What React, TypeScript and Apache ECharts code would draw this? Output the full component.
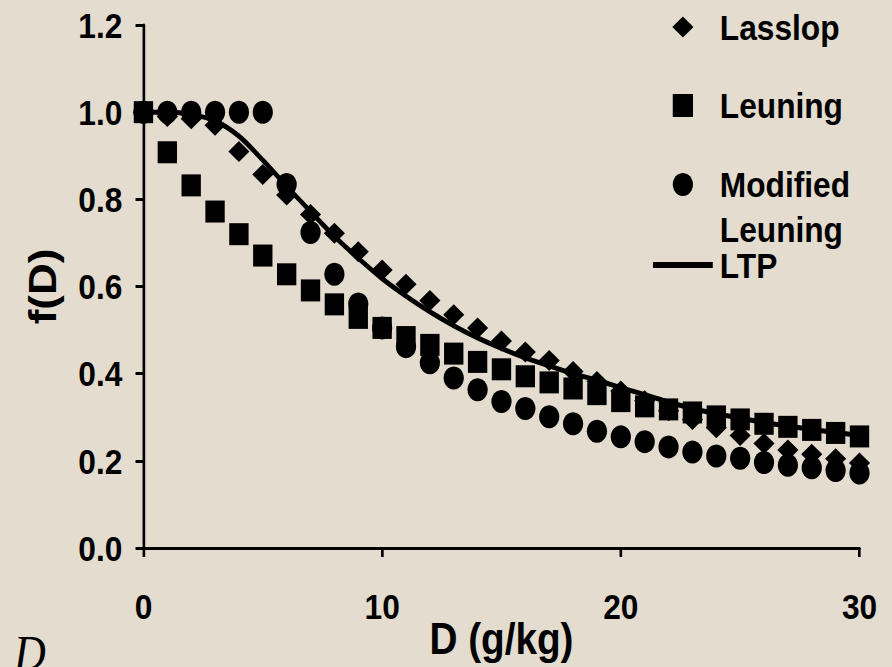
import React, { useEffect, useRef } from "react";
import * as echarts from "echarts";

// ---- data ----
const dValues = [0,1,2,3,4,5,6,7,8,9,10,11,12,13,14,15,16,17,18,19,20,21,22,23,24,25,26,27,28,29,30];
const lasslop = [1.0,0.99,0.985,0.97,0.91,0.857,0.81,0.765,0.722,0.68,0.638,0.605,0.568,0.535,0.505,0.475,0.45,0.43,0.405,0.382,0.36,0.338,0.315,0.295,0.276,0.258,0.24,0.225,0.215,0.205,0.195];
const leuning = [1.0,0.908,0.832,0.772,0.72,0.671,0.628,0.591,0.559,0.528,0.505,0.484,0.466,0.446,0.427,0.41,0.394,0.38,0.366,0.353,0.337,0.325,0.318,0.311,0.302,0.295,0.285,0.278,0.271,0.264,0.256];
const modifiedLeuning = [1.0,1.0,1.0,1.0,1.0,1.0,0.834,0.724,0.628,0.56,0.505,0.462,0.425,0.39,0.363,0.336,0.32,0.301,0.285,0.268,0.255,0.244,0.232,0.22,0.211,0.206,0.196,0.19,0.184,0.178,0.172];
const ltp = [1.0,1.0,0.995,0.98,0.945,0.89,0.83,0.772,0.715,0.665,0.618,0.578,0.542,0.51,0.482,0.458,0.436,0.418,0.4,0.385,0.368,0.352,0.335,0.32,0.308,0.298,0.288,0.28,0.272,0.265,0.258];
const seriesNames = ["Lasslop", "Leuning", "Modified Leuning", "LTP"];
const xTitle = "D (g/kg)";
const yTitle = "f(D)";

const S = 0.88; // the reference is horizontally condensed
const W = Math.round(892 / S);
const H = 667;
const FONT = '"Liberation Sans", Arial, sans-serif';
const BG = "#e3dccf";

const pairs = (ys: number[]) => dValues.map((d, i) => [d, ys[i]]);

export default function App() {
  const ref = useRef<HTMLDivElement>(null);
  useEffect(() => {
    if (!ref.current) return;
    const chart = echarts.init(ref.current, undefined, { renderer: "svg", width: W, height: H });
    const legendText = { fontSize: 36, fontWeight: "bold" as const, color: "#000", fontFamily: FONT, lineHeight: 32 };
    chart.setOption({
      animation: false,
      backgroundColor: BG,
      grid: {
        left: 163, right: W - 976.7, top: 25, bottom: 119,
        containLabel: false, outerBoundsMode: "none",
      },
      xAxis: {
        type: "value",
        min: 0,
        max: 30,
        interval: 10,
        name: xTitle,
        nameLocation: "middle",
        nameGap: 69,
        nameMoveOverlap: false,
        nameTextStyle: { fontSize: 44, fontWeight: "bold", color: "#000", fontFamily: FONT },
        axisLine: { show: true, lineStyle: { color: "#000", width: 3 } },
        axisTick: { show: true, length: 9, lineStyle: { color: "#000", width: 3 } },
        axisLabel: { fontSize: 36, fontWeight: "bold", color: "#000", fontFamily: FONT, margin: 40 },
        splitLine: { show: false },
      },
      yAxis: {
        type: "value",
        min: 0,
        max: 1.2,
        interval: 0.2,
        name: yTitle,
        nameLocation: "middle",
        nameGap: 93,
        nameRotate: 90,
        nameMoveOverlap: false,
        nameTextStyle: { fontSize: 44, fontWeight: "bold", color: "#000", fontFamily: FONT },
        axisLine: { show: true, lineStyle: { color: "#000", width: 3 } },
        axisTick: { show: true, length: 9, lineStyle: { color: "#000", width: 3 } },
        axisLabel: {
          fontSize: 36, fontWeight: "bold", color: "#000", fontFamily: FONT, margin: 24,
          formatter: (v: number) => v.toFixed(1),
        },
        splitLine: { show: false },
      },
      legend: [
        {
          data: [seriesNames[0]], left: 764, top: 6, padding: 0, icon: "diamond",
          itemWidth: 24, itemHeight: 21, selectedMode: false,
          textStyle: { ...legendText, padding: [0, 0, 10, 25] },
        },
        {
          data: [seriesNames[1]], left: 764.5, top: 87.5, padding: 0, icon: "rect",
          itemWidth: 23, itemHeight: 23, selectedMode: false,
          textStyle: { ...legendText, padding: [0, 0, 0, 25.5] },
        },
        {
          data: [seriesNames[2]], left: 764.5, top: 166.5, padding: 0, icon: "circle",
          itemWidth: 23, itemHeight: 25, selectedMode: false,
          formatter: () => "Modified",
          textStyle: { ...legendText, padding: [0, 0, 0, 25.5] },
        },
        {
          data: [seriesNames[3]], left: 742, top: 247, padding: 0, icon: "rect",
          itemWidth: 68, itemHeight: 6, selectedMode: false,
          textStyle: { ...legendText, padding: [0, 0, 0, 3] },
        },
      ],
      graphic: [
        {
          type: "text", left: 818, top: 211, silent: true,
          style: { text: "Leuning", font: `bold 36px ${FONT}`, lineHeight: 32, fill: "#000" },
        },
        {
          type: "text", left: 16, top: 628, silent: true,
          style: { text: "D", font: 'italic 50px "Liberation Serif", "Times New Roman", serif', fill: "#000" },
        },
      ],
      series: [
        {
          name: seriesNames[3], type: "line", data: pairs(ltp), smooth: 0.3, showSymbol: false,
          symbol: "none", lineStyle: { color: "#000", width: 5 }, itemStyle: { color: "#000" }, z: 2,
        },
        {
          name: seriesNames[0], type: "scatter", data: pairs(lasslop), symbol: "diamond",
          symbolSize: [24, 21], itemStyle: { color: "#000", opacity: 1 }, z: 3,
        },
        {
          name: seriesNames[2], type: "scatter", data: pairs(modifiedLeuning), symbol: "circle",
          symbolSize: 23, itemStyle: { color: "#000", opacity: 1 }, z: 4,
        },
        {
          name: seriesNames[1], type: "scatter", data: pairs(leuning), symbol: "rect",
          symbolSize: [22, 22], itemStyle: { color: "#000", opacity: 1 }, z: 5,
        },
      ],
    });
    return () => chart.dispose();
  }, []);
  return (
    <div style={{ position: "fixed", left: 0, top: 0, width: 892, height: 667, overflow: "hidden", background: BG }}>
      <div
        ref={ref}
        style={{ width: W, height: H, transform: `scaleX(${S})`, transformOrigin: "0 0" }}
      />
    </div>
  );
}
